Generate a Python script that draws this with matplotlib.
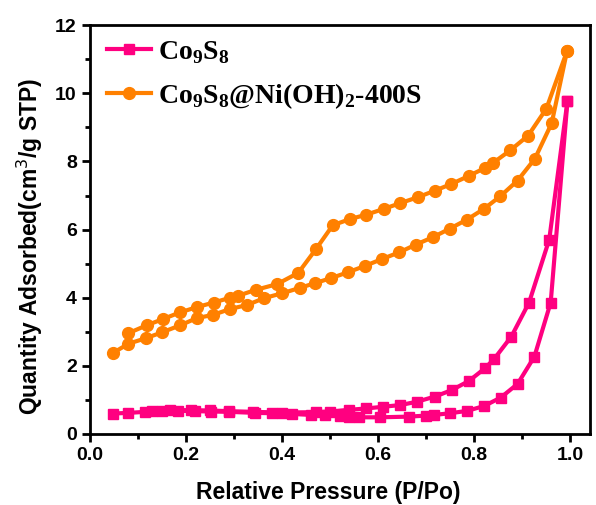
import matplotlib
matplotlib.use('Agg')
import matplotlib.pyplot as plt
from matplotlib.ticker import MultipleLocator

# Co9S8 isotherm
co_ads_p = [0.047, 0.08, 0.115, 0.15, 0.184, 0.219, 0.253, 0.29, 0.344, 0.38, 0.42, 0.46, 0.49,
            0.52, 0.54, 0.56, 0.604, 0.665, 0.70, 0.717, 0.751, 0.786, 0.821, 0.856, 0.891,
            0.926, 0.96, 0.995]
co_ads_q = [0.60, 0.62, 0.65, 0.68, 0.68, 0.67, 0.66, 0.65, 0.62, 0.61, 0.59, 0.56, 0.55,
            0.53, 0.51, 0.49, 0.49, 0.51, 0.54, 0.56, 0.61, 0.68, 0.82, 1.07, 1.47,
            2.27, 3.86, 9.78]
co_des_p = [0.995, 0.957, 0.915, 0.878, 0.842, 0.823, 0.79, 0.754, 0.719, 0.682, 0.647, 0.611,
            0.576, 0.54, 0.50, 0.47, 0.40, 0.34, 0.29, 0.25, 0.21, 0.167, 0.13]
co_des_q = [9.78, 5.71, 3.86, 2.86, 2.20, 1.93, 1.56, 1.29, 1.10, 0.95, 0.85, 0.80,
            0.75, 0.71, 0.66, 0.64, 0.63, 0.65, 0.67, 0.69, 0.70, 0.70, 0.67]

# Co9S8@Ni(OH)2-400S isotherm
ni_ads_p = [0.047, 0.08, 0.116, 0.151, 0.188, 0.222, 0.257, 0.292, 0.328, 0.363, 0.40, 0.4375,
            0.469, 0.503, 0.538, 0.574, 0.609, 0.644, 0.679, 0.715, 0.75, 0.785, 0.821,
            0.855, 0.891, 0.927, 0.962, 0.994]
ni_ads_q = [2.37, 2.65, 2.81, 2.99, 3.19, 3.40, 3.50, 3.67, 3.79, 3.99, 4.13, 4.29,
            4.43, 4.58, 4.75, 4.94, 5.14, 5.33, 5.56, 5.78, 6.03, 6.29, 6.61,
            6.98, 7.44, 8.08, 9.12, 11.24]
ni_des_p = [0.994, 0.951, 0.913, 0.876, 0.84, 0.823, 0.79, 0.753, 0.718, 0.683, 0.647, 0.6125,
            0.576, 0.542, 0.506, 0.471, 0.434, 0.39, 0.345, 0.309, 0.292, 0.258, 0.224,
            0.1875, 0.153, 0.118, 0.08]
ni_des_q = [11.24, 9.55, 8.76, 8.33, 7.96, 7.81, 7.58, 7.34, 7.14, 6.95, 6.78, 6.61,
            6.44, 6.31, 6.13, 5.43, 4.73, 4.40, 4.23, 4.06, 4.00, 3.86, 3.73,
            3.57, 3.38, 3.19, 2.96]

pink = '#FF0080'
orange = '#FF8000'

plt.rcParams['font.family'] = 'Liberation Sans'
plt.rcParams['mathtext.fontset'] = 'custom'
plt.rcParams['mathtext.rm'] = 'Liberation Serif:bold'
plt.rcParams['mathtext.bf'] = 'Liberation Serif:bold'

fig = plt.figure(figsize=(5.96, 5.05), dpi=100)
ax = fig.add_axes([0.151, 0.1406, 0.839, 0.8094])

co_line, = ax.plot(co_ads_p, co_ads_q, color=pink, lw=3, marker='s', ms=7.5,
                   label=r'Co$_\mathrm{9}$S$_\mathrm{8}$')
ax.plot(co_des_p, co_des_q, color=pink, lw=3, marker='s', ms=7.5)
ni_line, = ax.plot(ni_ads_p, ni_ads_q, color=orange, lw=3, marker='o', ms=8.5,
                   label=r'Co$_\mathrm{9}$S$_\mathrm{8}$@Ni(OH)$_\mathrm{2}$-400S')
ax.plot(ni_des_p, ni_des_q, color=orange, lw=3, marker='o', ms=8.5)

ax.set_xlim(0, 1.042)
ax.set_ylim(0, 12)
ax.xaxis.set_major_locator(MultipleLocator(0.2))
ax.xaxis.set_minor_locator(MultipleLocator(0.1))
ax.yaxis.set_major_locator(MultipleLocator(2))
ax.yaxis.set_minor_locator(MultipleLocator(1))
ax.set_xticks([0.0, 0.2, 0.4, 0.6, 0.8, 1.0])
ax.set_xticklabels(['0.0', '0.2', '0.4', '0.6', '0.8', '1.0'])

for s in ax.spines.values():
    s.set_linewidth(2)
ax.tick_params(which='major', direction='out', length=6, width=2, labelsize=14)
ax.tick_params(which='minor', direction='out', length=3.5, width=2)
for lbl in ax.get_xticklabels() + ax.get_yticklabels():
    lbl.set_fontweight('bold')

ax.set_xlabel('Relative Pressure (P/Po)', fontsize=16.5, fontweight='bold')
ax.set_ylabel(r'Quantity Adsorbed(cm$^{3}$/g STP)', fontsize=16.5, fontweight='bold')
ax.yaxis.label.set_math_fontfamily('dejavusans')
ax.xaxis.set_label_coords(0.476, -0.115)
ax.yaxis.set_label_coords(-0.089, 0.46)

ax.legend(handles=[co_line, ni_line], loc='upper left', bbox_to_anchor=(0.006, 1.0),
          frameon=False, prop={'family': 'Liberation Serif', 'weight': 'bold', 'size': 20},
          handlelength=1.6, borderaxespad=0.1, labelspacing=0.55, handletextpad=0.25)

fig.savefig('out.png', dpi=100)
